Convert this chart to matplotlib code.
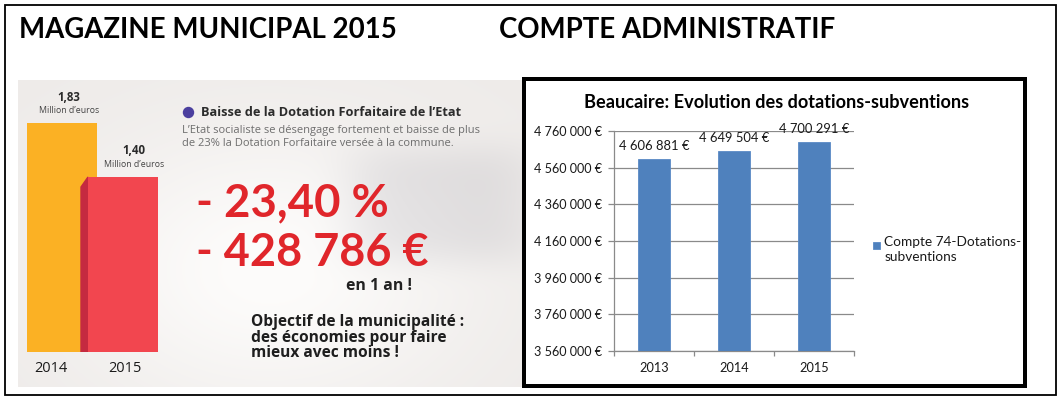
import numpy as np
import matplotlib
matplotlib.use("Agg")
import matplotlib.pyplot as plt
from matplotlib import font_manager
from matplotlib.patches import Rectangle, Polygon
from matplotlib.ticker import FuncFormatter, FixedLocator
from matplotlib.legend_handler import HandlerPatch

# ---------------- data ----------------
heading_left = "MAGAZINE MUNICIPAL 2015"
heading_right = "COMPTE ADMINISTRATIF"

mag_years = ["2014", "2015"]
mag_values = [1.83, 1.40]
mag_value_labels = ["1,83", "1,40"]
mag_unit = "Million d’euros"
mag_title = "Baisse de la Dotation Forfaitaire de l’Etat"
mag_sub = ["L’Etat socialiste se désengage fortement et baisse de plus",
           "de 23% la Dotation Forfaitaire versée à la commune."]
mag_big = ["- 23,40 %", "- 428 786 €"]
mag_period = "en 1 an !"
mag_goal = ["Objectif de la municipalité :", "des économies pour faire", "mieux avec moins !"]

ca_title = "Beaucaire: Evolution des dotations-subventions"
ca_years = ["2013", "2014", "2015"]
ca_values = [4606881, 4649504, 4700291]
ca_series = "Compte 74-Dotations-\nsubventions"
ca_ymin, ca_ymax, ca_ystep = 3560000, 4760000, 200000

# ---------------- fonts ----------------
def have(fam):
    try:
        font_manager.findfont(font_manager.FontProperties(family=fam), fallback_to_default=False)
        return True
    except Exception:
        return False

HEAD_FONT = "Liberation Sans Narrow" if have("Liberation Sans Narrow") else "Lato"
CAL = "Lato"
MYR = "Open Sans"

W, H = 1062, 401
fig = plt.figure(figsize=(W / 100, H / 100), dpi=100)
fig.patch.set_facecolor("white")
renderer = fig.canvas.get_renderer()


def px_rect(l, t, r, b):
    return [l / W, 1 - b / H, (r - l) / W, (b - t) / H]


def px2pt(v):
    return v * 0.72


def fit(t, width):
    for _ in range(3):
        bb = t.get_window_extent(renderer)
        t.set_fontsize(t.get_fontsize() * width / bb.width)
    return t.get_fontsize()


# overlay axis in pixel coordinates
bg = fig.add_axes([0, 0, 1, 1], zorder=0)
bg.axis("off")

# infographic background (soft blurred photo look)
xs = np.linspace(18, 522, 320)
ys = np.linspace(80, 387, 200)
X, Y = np.meshgrid(xs, ys)
base = np.array([238, 235, 233]) / 255.0
white = np.array([253, 252, 251]) / 255.0
img = np.ones((len(ys), len(xs), 3)) * base
glow = np.exp(-(((X - 270) / 200) ** 2 + ((Y - 270) / 140) ** 2))
img = img + glow[..., None] * (white - base)
kb = np.exp(-(((X - 440) / 95) ** 4 + ((Y - 205) / 60) ** 4))
img = img - kb[..., None] * np.array([0.07, 0.07, 0.06])
img = np.clip(img, 0, 1)
bg.imshow(img, extent=(18, 522, 387, 80), aspect="auto", interpolation="bilinear", zorder=0)
bg.set_xlim(0, W)
bg.set_ylim(H, 0)

# outer border
bg.add_patch(Rectangle((5, 5), 1051, 390, fill=False, lw=1.3, edgecolor="black", zorder=5))

# headings
t = bg.text(19, 30, heading_left, ha="left", va="center", weight="bold",
            family=HEAD_FONT, fontsize=20, color="black")
fit(t, 378)
t = bg.text(499, 30, heading_right, ha="left", va="center", weight="bold",
            family=HEAD_FONT, fontsize=20, color="black")
fit(t, 336)

# ---------------- left infographic ----------------
bg.plot([188], [112], marker="o", markersize=px2pt(10), color="#4B3F9E", zorder=3)
t = bg.text(201, 112, mag_title, ha="left", va="center", weight="bold",
            family=MYR, fontsize=10, color="#2b2b2b")
fit(t, 261)
t = bg.text(182, 131, mag_sub[0], ha="left", va="center", family=MYR,
            fontsize=9, color="#6e6e6e")
fs = fit(t, 300)
bg.text(182, 144, mag_sub[1], ha="left", va="center", family=MYR,
        fontsize=fs, color="#6e6e6e")

t = bg.text(196, 203, mag_big[0], ha="left", va="center", weight="bold",
            family=CAL, fontsize=34, color="#E0262B")
fs = fit(t, 193)
t = bg.text(196, 253, mag_big[1], ha="left", va="center", weight="bold",
            family=CAL, fontsize=fs, color="#E0262B")
fit(t, 233)
t = bg.text(346, 286, mag_period, ha="left", va="center", weight="bold",
            family=MYR, fontsize=11, color="#222222")
fit(t, 66)
t = bg.text(251, 322, mag_goal[0], ha="left", va="center", weight="bold",
            family=MYR, fontsize=11, color="#1e1e1e")
fs = fit(t, 213)
for yy, line in zip([338, 353], mag_goal[1:]):
    bg.text(251, yy, line, ha="left", va="center", weight="bold",
            family=MYR, fontsize=fs, color="#1e1e1e")

# left bar chart (pixel scale: 61 px between bars, 125 px per million)
axL = fig.add_axes(px_rect(18, 102, 180, 352), zorder=2)
axL.patch.set_alpha(0)
axL.axis("off")
step_px = 61.0
axL.set_xlim(-(62 - 18) / step_px, 1 + (180 - 123) / step_px)
axL.set_ylim(0, 2.0)
bw = 70 / step_px
mag_colors = ["#FBB124", "#F2464F"]
axL.bar([0], [mag_values[0]], width=bw, color=mag_colors[0], zorder=2)
x0 = 1 - bw / 2
dx = 7 / step_px
dy = 10 / 125.0
axL.add_patch(Polygon([(x0 - dx, 0), (x0 - dx, mag_values[1] - dy), (x0, mag_values[1]), (x0, 0)],
                      closed=True, color="#C52A40", zorder=3))
axL.bar([1], [mag_values[1]], width=bw, color=mag_colors[1], zorder=4)

lab_dx = [7, 11]
year_dx = [-11, 2]
for i, (v, lab, yr) in enumerate(zip(mag_values, mag_value_labels, mag_years)):
    a = axL.annotate(lab, (i, v), xytext=(px2pt(lab_dx[i]), px2pt(26)), textcoords="offset points",
                     ha="center", va="center", weight="bold", family=MYR, fontsize=8.3, color="#2a2a2a")
    a = axL.annotate(mag_unit, (i, v), xytext=(px2pt(lab_dx[i]), px2pt(12.5)), textcoords="offset points",
                     ha="center", va="center", family=MYR, fontsize=7.2, color="#444444")
    fit(a, 60)
    a = axL.annotate(yr, (i, 0), xytext=(px2pt(year_dx[i]), px2pt(-17)), textcoords="offset points",
                     ha="center", va="center", family=MYR, fontsize=11, color="#1a1a1a",
                     annotation_clip=False)
    fit(a, 33)

# ---------------- right chart ----------------
# white panel with thick black frame
bg.add_patch(Rectangle((522, 77), 505, 311, facecolor="white", edgecolor="none", zorder=4))
bg.add_patch(Rectangle((524, 79), 501, 307, fill=False, lw=px2pt(4), edgecolor="black",
                       zorder=6, joinstyle="miter"))
t = bg.text(777, 102, ca_title, ha="center", va="center", weight="bold",
            family=CAL, fontsize=13, color="black", zorder=7)
fit(t, 386)

axR = fig.add_axes(px_rect(614, 131, 854, 351), zorder=3)
axR.patch.set_alpha(0)
xpos = np.arange(len(ca_years))
bars = axR.bar(xpos, ca_values, width=0.4, color="#4F81BD", edgecolor="#5A8AC6",
               linewidth=0.6, zorder=3, label=ca_series)
axR.set_ylim(ca_ymin, ca_ymax)
axR.set_xlim(-0.5, len(ca_years) - 0.5)
axR.set_yticks(np.arange(ca_ymin, ca_ymax + 1, ca_ystep))
axR.yaxis.set_major_formatter(FuncFormatter(lambda v, p: f"{v:,.0f} €".replace(",", " ")))
axR.set_xticks(xpos)
axR.set_xticklabels(ca_years)
axR.xaxis.set_minor_locator(FixedLocator(np.arange(-0.5, len(ca_years), 1.0)))
gray = "#8a8a8a"
axR.yaxis.grid(True, color=gray, lw=0.9, zorder=0)
axR.set_axisbelow(True)
for s in ["top", "right"]:
    axR.spines[s].set_visible(False)
for s in ["left", "bottom"]:
    axR.spines[s].set_color(gray)
    axR.spines[s].set_linewidth(0.9)
axR.tick_params(axis="y", length=px2pt(6), color=gray, width=0.9, pad=px2pt(6),
                labelsize=9.1, labelcolor="#1a1a1a")
axR.tick_params(axis="x", which="major", length=0, pad=px2pt(11), labelsize=9.2, labelcolor="#1a1a1a")
axR.tick_params(axis="x", which="minor", length=px2pt(5), color=gray, width=0.9, direction="out")
for lab in axR.get_yticklabels() + axR.get_xticklabels():
    lab.set_family(CAL)

for x, v in zip(xpos, ca_values):
    axR.annotate(f"{v:,.0f} €".replace(",", " "), (x, v), xytext=(0, px2pt(13)),
                 textcoords="offset points", ha="center", va="center",
                 family=CAL, fontsize=9.4, color="#1a1a1a", annotation_clip=False)


def square_patch(legend, orig_handle, xdescent, ydescent, width, height, fontsize):
    s = 7 * 0.72
    return Rectangle((-xdescent + width - s, -ydescent + height / 2 - s / 2 + 3.2), s, s)


leg = axR.legend(handles=[bars.patches[0]], labels=[ca_series], loc="upper left",
                 bbox_to_anchor=(872 / W, 1 - 236 / H), bbox_transform=fig.transFigure,
                 frameon=False, borderpad=0, borderaxespad=0, handlelength=0.6,
                 handletextpad=0.3, prop={"family": CAL, "size": 9.8},
                 handler_map={Rectangle: HandlerPatch(patch_func=square_patch)})
for tx in leg.get_texts():
    tx.set_linespacing(1.3)
    tx.set_color("#1a1a1a")

fig.savefig("out.png", dpi=100, facecolor="white")
